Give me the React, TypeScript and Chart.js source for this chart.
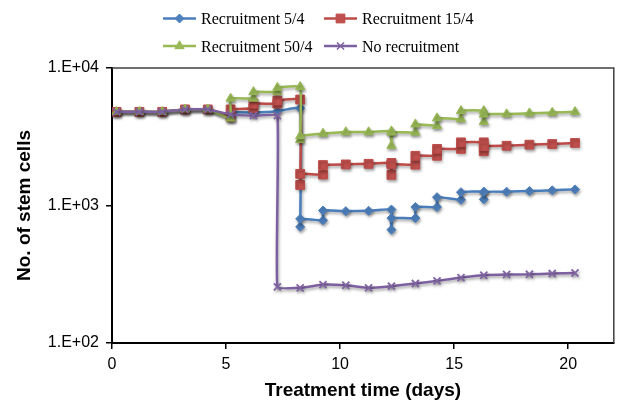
import React, { useEffect, useRef } from 'react';
import { Chart, registerables } from 'chart.js';

Chart.register(...registerables);

// ---- data (time in days, number of stem cells) ----
const blueT = [0.2, 1.2, 2.2, 3.2, 4.2, 5.2, 5.2, 6.2, 7.25, 8.25, 8.25, 8.25, 9.25, 9.25, 10.25, 11.25, 12.25, 12.25, 12.25, 13.3, 13.3, 14.25, 14.25, 15.3, 15.3, 16.3, 16.3, 16.3, 17.3, 18.3, 19.3, 20.3];
const blueV = [4800, 4800, 4800, 5000, 5000, 4400, 4750, 4750, 4850, 5100, 700, 800, 780, 920, 910, 915, 935, 667, 810, 810, 975, 975, 1150, 1100, 1250, 1260, 1110, 1255, 1260, 1275, 1290, 1310];

const redT = [0.2, 1.2, 2.2, 3.2, 4.2, 5.2, 5.2, 6.2, 6.2, 7.25, 7.25, 8.25, 8.25, 8.25, 9.25, 9.25, 10.25, 11.25, 12.25, 12.25, 12.25, 13.3, 13.3, 14.25, 14.25, 15.3, 15.3, 16.3, 16.3, 16.3, 17.3, 18.3, 19.3, 20.3];
const redV = [4800, 4800, 4800, 5000, 5000, 4400, 5000, 5100, 5500, 5500, 5800, 5900, 1410, 1700, 1680, 1970, 1990, 2010, 2040, 1670, 1990, 1980, 2300, 2300, 2580, 2580, 2880, 2880, 2480, 2700, 2720, 2770, 2800, 2850];

const greenT = [0.2, 1.2, 2.2, 3.2, 4.2, 5.2, 5.2, 6.2, 6.2, 7.25, 7.25, 8.25, 8.25, 8.25, 9.25, 10.25, 11.25, 12.25, 12.25, 12.25, 13.3, 13.3, 14.25, 14.25, 15.3, 15.3, 16.3, 16.3, 16.3, 17.3, 18.3, 19.3, 20.3];
const greenV = [4800, 4800, 4800, 5000, 5000, 4300, 6000, 6000, 6700, 6700, 7200, 7300, 3000, 3200, 3340, 3420, 3420, 3470, 2720, 3400, 3400, 3900, 3800, 4320, 4250, 4880, 4880, 4060, 4600, 4620, 4690, 4740, 4800];

const purpleT = [0.2, 1.2, 2.2, 3.2, 4.2, 5.2, 6.2, 7.25, 7.25, 8.25, 9.25, 10.25, 11.25, 12.25, 13.3, 14.25, 15.3, 16.3, 17.3, 18.3, 19.3, 20.3];
const purpleV = [4800, 4800, 4800, 5000, 5000, 4600, 4500, 4500, 256, 252, 266, 263, 252, 259, 271, 283, 299, 311, 315, 316, 320, 323];

const seriesNames = ['Recruitment 5/4', 'Recruitment 15/4', 'Recruitment 50/4', 'No recruitment'];
const yTickValues = [100, 1000, 10000];
const yTickLabels = ['1.E+02', '1.E+03', '1.E+04'];
const xTitle = 'Treatment time (days)';
const yTitle = 'No. of stem cells';

const lineColors = ['#4A7EBB', '#BE4B48', '#98B954', '#7D60A0'];
const markerColors = ['#4F81BD', '#C0504D', '#9BBB59', '#8064A2'];
const markerStyles = ['rectRot', 'rect', 'triangle', 'crossRot'];
const markerRadius = [4.5, 6.2, 5.3, 5];

const toPoints = (t: number[], v: number[]) => t.map((x, i) => ({ x, y: v[i] }));

function drawMarker(ctx: CanvasRenderingContext2D, style: string, x: number, y: number, r: number, fill: string, stroke: string) {
  ctx.save();
  ctx.fillStyle = fill;
  ctx.strokeStyle = stroke;
  ctx.lineWidth = 1;
  ctx.beginPath();
  if (style === 'rectRot') {
    ctx.moveTo(x, y - r); ctx.lineTo(x + r, y); ctx.lineTo(x, y + r); ctx.lineTo(x - r, y); ctx.closePath();
    ctx.fill(); ctx.stroke();
  } else if (style === 'rect') {
    const s = r * Math.SQRT1_2;
    ctx.rect(x - s, y - s, 2 * s, 2 * s);
    ctx.fill(); ctx.stroke();
  } else if (style === 'triangle') {
    const side = r * 3 / Math.sqrt(3);
    const h = side * Math.sqrt(3) / 2;
    ctx.moveTo(x - side / 2, y + h / 3);
    ctx.lineTo(x + side / 2, y + h / 3);
    ctx.lineTo(x, y - 2 * h / 3);
    ctx.closePath();
    ctx.fill(); ctx.stroke();
  } else {
    const d = r * Math.SQRT1_2;
    ctx.lineWidth = 1.5;
    ctx.moveTo(x - d, y - d); ctx.lineTo(x + d, y + d);
    ctx.moveTo(x + d, y - d); ctx.lineTo(x - d, y + d);
    ctx.stroke();
  }
  ctx.restore();
}

const legendPlugin = {
  id: 'twoColumnLegend',
  afterDraw(chart: any) {
    const ctx: CanvasRenderingContext2D = chart.ctx;
    const cols = [163, 324];
    const rows = [18.5, 46];
    ctx.save();
    seriesNames.forEach((name, i) => {
      const x = cols[i % 2];
      const y = rows[Math.floor(i / 2)];
      ctx.strokeStyle = lineColors[i];
      ctx.lineWidth = 2.5;
      ctx.beginPath();
      ctx.moveTo(x, y);
      ctx.lineTo(x + 33, y);
      ctx.stroke();
      drawMarker(ctx, markerStyles[i], x + 16.5, y, markerRadius[i], markerColors[i], lineColors[i]);
      ctx.fillStyle = '#000';
      ctx.font = '16px "Liberation Serif", serif';
      ctx.textAlign = 'left';
      ctx.textBaseline = 'alphabetic';
      ctx.fillText(name, x + 38, y + 5.5);
    });
    ctx.restore();
  },
};

const shadowPlugin = {
  id: 'markerShadow',
  beforeDatasetsDraw(chart: any) {
    const ctx = chart.ctx;
    ctx.save();
    ctx.shadowColor = 'rgba(0,0,0,0.35)';
    ctx.shadowBlur = 3;
    ctx.shadowOffsetX = 1;
    ctx.shadowOffsetY = 2;
  },
  afterDatasetsDraw(chart: any) {
    chart.ctx.restore();
  },
};

const framePlugin = {
  id: 'plotFrame',
  afterDatasetsDraw(chart: any) {
    const { ctx, chartArea } = chart;
    ctx.save();
    ctx.strokeStyle = '#404040';
    ctx.lineWidth = 1.5;
    ctx.beginPath();
    ctx.moveTo(chartArea.left, chartArea.top);
    ctx.lineTo(chartArea.right, chartArea.top);
    ctx.lineTo(chartArea.right, chartArea.bottom);
    ctx.stroke();
    ctx.restore();
  },
};

export default function App() {
  const canvasRef = useRef<HTMLCanvasElement | null>(null);

  useEffect(() => {
    if (!canvasRef.current) return;
    const seriesT = [blueT, redT, greenT, purpleT];
    const seriesV = [blueV, redV, greenV, purpleV];
    const datasets = seriesNames.map((name, i) => ({
      label: name,
      data: toPoints(seriesT[i], seriesV[i]),
      borderColor: lineColors[i],
      backgroundColor: markerColors[i],
      borderWidth: 2.5,
      pointStyle: markerStyles[i] as any,
      pointRadius: markerRadius[i],
      pointBorderWidth: i === 3 ? 1.8 : 1,
      pointBorderColor: i === 3 ? markerColors[i] : lineColors[i],
      pointBackgroundColor: markerColors[i],
      tension: 0.1,
      order: 3 - i,
    }));

    const chart = new Chart(canvasRef.current, {
      type: 'line',
      data: { datasets },
      plugins: [shadowPlugin, framePlugin, legendPlugin],
      options: {
        animation: false,
        responsive: false,
        layout: { padding: { top: 68, right: 2, left: 0, bottom: 0 } },
        plugins: {
          legend: { display: false },
          tooltip: { enabled: false },
          title: { display: false },
        },
        scales: {
          x: {
            type: 'linear',
            min: 0,
            max: 22,
            afterFit: (scale: any) => { scale.height = 64; },
            ticks: {
              stepSize: 5,
              includeBounds: false,
              color: '#000',
              padding: 6,
              maxRotation: 0,
              font: { family: '"Liberation Sans", Arial, sans-serif', size: 16 },
            },
            grid: { drawOnChartArea: false, drawTicks: true, tickLength: 6, color: '#000', lineWidth: 1.5 },
            border: { color: '#000', width: 2 },
            title: {
              display: true,
              text: xTitle,
              color: '#000',
              padding: { top: 0, bottom: 5 },
              font: { family: '"Liberation Sans", Arial, sans-serif', size: 19, weight: 'bold' },
            },
          },
          y: {
            type: 'logarithmic',
            min: 100,
            max: 10000,
            afterFit: (scale: any) => { scale.width = 112; },
            afterBuildTicks: (scale: any) => { scale.ticks = yTickValues.map((v) => ({ value: v })); },
            ticks: {
              color: '#000',
              padding: 7,
              callback: (value: any) => {
                const idx = yTickValues.indexOf(Number(value));
                return idx >= 0 ? yTickLabels[idx] : '';
              },
              font: { family: '"Liberation Sans", Arial, sans-serif', size: 16 },
            },
            grid: { drawOnChartArea: false, drawTicks: true, tickLength: 6, color: '#000', lineWidth: 1.5 },
            border: { color: '#000', width: 2 },
            title: {
              display: true,
              text: yTitle,
              color: '#000',
              padding: { top: 13, bottom: 0 },
              font: { family: '"Liberation Sans", Arial, sans-serif', size: 19, weight: 'bold' },
            },
          },
        },
      },
    });
    return () => chart.destroy();
  }, []);

  return (
    <div style={{ position: 'absolute', left: 0, top: 0, width: 621, height: 407, background: '#fff' }}>
      <canvas ref={canvasRef} width={621} height={407} style={{ display: 'block' }} />
    </div>
  );
}
